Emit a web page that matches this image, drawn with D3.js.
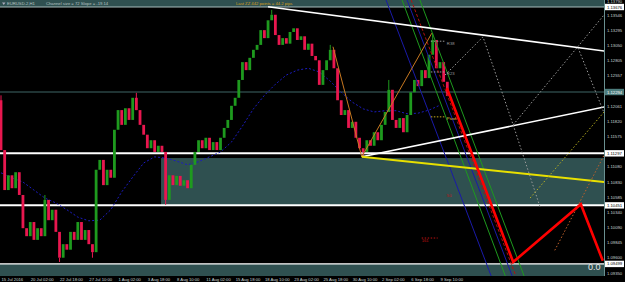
<!DOCTYPE html>
<html><head><meta charset="utf-8">
<script src="https://cdn.jsdelivr.net/npm/d3@7"></script>
<style>
html,body{margin:0;padding:0;background:#000;}
svg{display:block;font-family:"Liberation Sans",Arial,sans-serif;}
</style></head><body>
<svg id="chart" width="625" height="282"></svg>
<script>
// EURUSD H1, price in 8-bar blocks
var blockSize = 8;
var firstOpen = 1.1216;
var closes = [1.1135,1.1070,1.1094,1.1073,1.1099,1.1062,1.1008,1.0995,1.1018,1.0989,
  1.1008,1.0995,1.1054,1.1021,1.1038,1.1002,1.0960,1.0982,1.0973,1.1002,
  1.0989,1.1018,1.0989,1.1005,1.0982,1.0969,1.1103,1.1119,1.1078,1.1103,
  1.1090,1.1168,1.1200,1.1176,1.1203,1.1184,1.1220,1.1200,1.1176,1.1160,
  1.1138,1.1151,1.1132,1.1142,1.1132,1.1054,1.1094,1.1078,1.1093,1.1077,
  1.1086,1.1073,1.1111,1.1132,1.1151,1.1138,1.1155,1.1135,1.1148,1.1135,
  1.1155,1.1171,1.1184,1.1207,1.1220,1.1249,1.1278,1.1265,1.1285,1.1298,
  1.1306,1.1330,1.1317,1.1346,1.1355,1.1322,1.1306,1.1317,1.1308,1.1327,
  1.1333,1.1314,1.1320,1.1298,1.1308,1.1288,1.1281,1.1241,1.1265,1.1281,
  1.1298,1.1268,1.1216,1.1192,1.1200,1.1171,1.1181,1.1155,1.1138,1.1132,
  1.1151,1.1142,1.1164,1.1151,1.1176,1.1197,1.1233,1.1184,1.1171,1.1187,
  1.1164,1.1192,1.1229,1.1249,1.1239,1.1265,1.1252,1.1290,1.1314,1.1268,
  1.1278,1.1246,1.1223];
var spikeBlocks = [0, 12, 16, 25, 37, 45, 74, 90, 99, 106, 118];
var spikePrices = [1.1224, 1.1062, 1.0953, 1.0960, 1.1228, 1.1046, 1.1363, 1.1306, 1.1124, 1.1249, 1.1325];

// moving average, one value every 24 bars
var maStep = 24;
var maPrices = [1.1098,1.1090,1.1083,1.1070,1.1057,1.1049,1.1038,1.1026,1.1020,1.1021,
  1.1038,1.1067,1.1091,1.1114,1.1124,1.1122,1.1117,1.1111,1.1116,1.1124,
  1.1132,1.1148,1.1174,1.1202,1.1224,1.1242,1.1257,1.1265,1.1268,1.1262,
  1.1247,1.1229,1.1213,1.1202,1.1197,1.1199,1.1199,1.1194,1.1195,1.1200,1.1208];

var timeStep = 64;
var timeLabels = ["15 Jul 2016","20 Jul 02:00","22 Jul 18:00","27 Jul 10:00","1 Aug 02:00",
  "3 Aug 18:00","8 Aug 10:00","11 Aug 02:00","15 Aug 18:00","18 Aug 10:00","23 Aug 02:00",
  "25 Aug 18:00","30 Aug 10:00","2 Sep 02:00","6 Sep 18:00","9 Sep 10:00"];
var priceTicks = [1.13790,1.13546,1.13295,1.13050,1.12805,1.12557,1.12061,1.11820,1.11575,
  1.11080,1.10830,1.10585,1.10340,1.10090,1.09845,1.09600,1.09350];
var levelPrices = [1.13676, 1.12294, 1.11297, 1.10451, 1.09499];
var levelColors = ["#fff", "#4d7d7d", "#fff", "#fff", "#fff"];

// drawn objects (bar index, price)
var upperBars = [584, 1319], upperPrices = [1.1368, 1.1296];
var lowerBars = [789, 1319], lowerPrices = [1.1124, 1.1205];
var yellowBars = [789, 1319], yellowPrices = [1.1124, 1.1083];
var projBars = [975, 1120, 1268, 1316], projPrices = [1.1236, 1.0953, 1.1047, 1.0955];
var zzBars = [726, 789, 942], zzPrices = [1.1303, 1.1124, 1.1325];
var chanTop = 1.1379, chanBottom = 1.0930;
var chanStart = [877, 916, 888, 842, 897];
var chanEnd = [1103, 1144, 1118, 1072, 1126];
var chanColors = ["#1e9a1e", "#1e9a1e", "#1a1aa8", "#1a1aa8", "#b01010"];
var dotBars = [[971, 1054, 1120, 1179], [1120, 1319], [1262, 1319], [1157, 1319], [1211, 1319]];
var dotPrices = [[1.1257, 1.1319, 1.1176, 1.1042], [1.1176, 1.1355], [1.1301, 1.1195], [1.1057, 1.1197], [1.0972, 1.1127]];
var dotColors = ["#9a9a9a", "#9a9a9a", "#9a9a9a", "#b8b020", "#c0602a"];
var fibNames = ["R38", "R23", "Pivot", "161", "50"];
var fibPrices = [1.1312, 1.1262, 1.1189, 1.0992, 1.1065];
var fibColors = ["#9a9a9a", "#9a9a9a", "#c8b020", "#c01010", "#c01010"];

var W = 625, H = 282, plotR = 604, plotB = 276;
var svg = d3.select("#chart");
var x = d3.scaleLinear().domain([0, 960]).range([1, 440]);
var y = d3.scaleLinear().domain([1.1379, 1.09205]).range([0, 282]);

svg.append("rect").attr("width", W).attr("height", H).attr("fill", "#000");
svg.append("clipPath").attr("id", "plot").append("rect")
  .attr("width", plotR).attr("height", plotB);
var g = svg.append("g").attr("clip-path", "url(#plot)");

// zones
var teal = "#2f5050";
g.append("rect").attr("x", 0).attr("y", 0).attr("width", plotR)
  .attr("height", y(levelPrices[0])).attr("fill", teal);
g.append("rect").attr("x", x(350)).attr("y", y(1.1122)).attr("width", plotR - x(350))
  .attr("height", y(levelPrices[3]) - y(1.1122)).attr("fill", teal);
g.append("rect").attr("x", 0).attr("y", y(levelPrices[4])).attr("width", plotR)
  .attr("height", plotB - y(levelPrices[4])).attr("fill", teal);

// horizontal levels
g.selectAll("line.lvl").data(levelPrices).enter().append("line")
  .attr("x1", 0).attr("x2", plotR)
  .attr("y1", function(d) { return y(d); }).attr("y2", function(d) { return y(d); })
  .attr("stroke", function(d, i) { return i == 1 ? "#3e6666" : (i == 0 ? "#a8bcbc" : "#fff"); })
  .attr("stroke-width", function(d, i) { return (i == 2 || i == 3) ? 2 : 1.2; });

// moving average
var maLine = d3.line().x(function(d, i) { return x(i * maStep); }).y(function(d) { return y(d); });
g.append("path").attr("d", maLine(maPrices)).attr("fill", "none")
  .attr("stroke", "#1c1cc0").attr("stroke-width", 1).attr("stroke-dasharray", "2,2");

// candles
var blocks = closes.map(function(c, k) {
  return { k: k, open: k == 0 ? firstOpen : closes[k - 1], close: c };
});
g.selectAll("line.wick").data(spikeBlocks).enter().append("line")
  .attr("x1", function(k) { return x(k * blockSize); }).attr("x2", function(k) { return x(k * blockSize); })
  .attr("y1", function(k, i) { return y(spikePrices[i]); })
  .attr("y2", function(k) { return y(closes[k]); })
  .attr("stroke", function(k) { return blocks[k].close >= blocks[k].open ? "#1e9a1e" : "#e8174f"; })
  .attr("stroke-width", 1);
g.selectAll("rect.candle").data(blocks).enter().append("rect")
  .attr("x", function(d) { return x(d.k * blockSize) - 1.4; })
  .attr("width", 2.8)
  .attr("y", function(d) { return y(Math.max(d.open, d.close)); })
  .attr("height", function(d) { return Math.max(1, Math.abs(y(d.open) - y(d.close))); })
  .attr("fill", function(d) { return d.close >= d.open ? "#1e9a1e" : "#e8174f"; });

// steep channel
chanStart.forEach(function(b, i) {
  g.append("line").attr("x1", x(b)).attr("y1", y(chanTop)).attr("x2", x(chanEnd[i])).attr("y2", y(chanBottom))
    .attr("stroke", chanColors[i]).attr("stroke-width", 1)
    .attr("stroke-dasharray", i == 4 ? "3,2" : null);
});

// zigzag
var pts = d3.line().x(function(d) { return x(d[0]); }).y(function(d) { return y(d[1]); });
g.append("path").attr("d", pts(d3.zip(zzBars, zzPrices))).attr("fill", "none")
  .attr("stroke", "#c87820").attr("stroke-width", 1);

// trend lines
g.append("path").attr("d", pts(d3.zip(upperBars, upperPrices))).attr("stroke", "#fff").attr("stroke-width", 1.6);
g.append("path").attr("d", pts(d3.zip(lowerBars, lowerPrices))).attr("stroke", "#fff").attr("stroke-width", 1.6);
g.append("path").attr("d", pts(d3.zip(yellowBars, yellowPrices))).attr("stroke", "#e8e000").attr("stroke-width", 2);

// dotted projections
dotBars.forEach(function(b, i) {
  g.append("path").attr("d", pts(d3.zip(b, dotPrices[i]))).attr("fill", "none")
    .attr("stroke", dotColors[i]).attr("stroke-width", 1).attr("stroke-dasharray", "1.5,2");
});

// fib marks
fibNames.forEach(function(n, i) {
  var b0 = i < 3 ? 940 : 920, b1 = i < 3 ? 972 : 955;
  if (i == 4) { b0 = 982; b1 = 982; }
  g.append("line").attr("x1", x(b0)).attr("x2", x(b1)).attr("y1", y(fibPrices[i])).attr("y2", y(fibPrices[i]))
    .attr("stroke", fibColors[i]).attr("stroke-width", 1).attr("stroke-dasharray", "1.5,1.5");
  g.append("text").attr("x", i == 3 ? x(920) : x(975)).attr("y", y(fibPrices[i]) + 3.5)
    .attr("font-size", "4.2px").attr("fill", i == 2 ? "#e0c040" : fibColors[i]).text(n);
});

// projection in red
g.append("path").attr("d", pts(d3.zip(projBars, projPrices))).attr("fill", "none")
  .attr("stroke", "#ff0000").attr("stroke-width", 2.6).attr("stroke-linejoin", "miter");

// header
svg.append("path").attr("d", "M2,2.5L5.5,2.5L3.75,5Z").attr("fill", "#aab");
svg.append("text").attr("x", 7).attr("y", 5.3).attr("font-size", "4.2px").attr("fill", "#b8c4c4").text("EURUSD-2,H1");
svg.append("text").attr("x", 46).attr("y", 5.3).attr("font-size", "4.2px").attr("fill", "#b8c4c4").text("Channel size = 72 Slope = -19.14");
svg.append("text").attr("x", 236).attr("y", 5.3).attr("font-size", "4.2px").attr("fill", "#d8a020").text("Last ZZ 442 points = 44.2 pips");

svg.append("text").attr("x", 588).attr("y", 270).attr("font-size", "9px").attr("fill", "#e8e8e8").text("0.0");

// price axis
svg.append("line").attr("x1", plotR + 0.5).attr("x2", plotR + 0.5).attr("y1", 0).attr("y2", plotB)
  .attr("stroke", "#6a9090").attr("stroke-width", 1);
svg.selectAll("text.tick").data(priceTicks).enter().append("text")
  .attr("x", 607).attr("y", function(d) { return Math.max(3.4, y(d) + 1.5); })
  .attr("font-size", "4.2px").attr("fill", "#c8d4d4")
  .text(function(d) { return d.toFixed(5); });
levelPrices.forEach(function(p, i) {
  svg.append("rect").attr("x", 605).attr("y", y(p) - 3.2).attr("width", 19).attr("height", 6.4)
    .attr("fill", levelColors[i]);
  svg.append("text").attr("x", 607).attr("y", y(p) + 1.5).attr("font-size", "4.2px")
    .attr("fill", i == 1 ? "#fff" : "#000").text(p.toFixed(5));
});

// time axis
svg.selectAll("text.time").data(timeLabels).enter().append("text")
  .attr("x", function(d, i) { return x(i * timeStep) + 0.5; }).attr("y", 281)
  .attr("font-size", "4.2px").attr("fill", "#c8d4d4")
  .text(function(d) { return d; });
</script>
</body></html>
